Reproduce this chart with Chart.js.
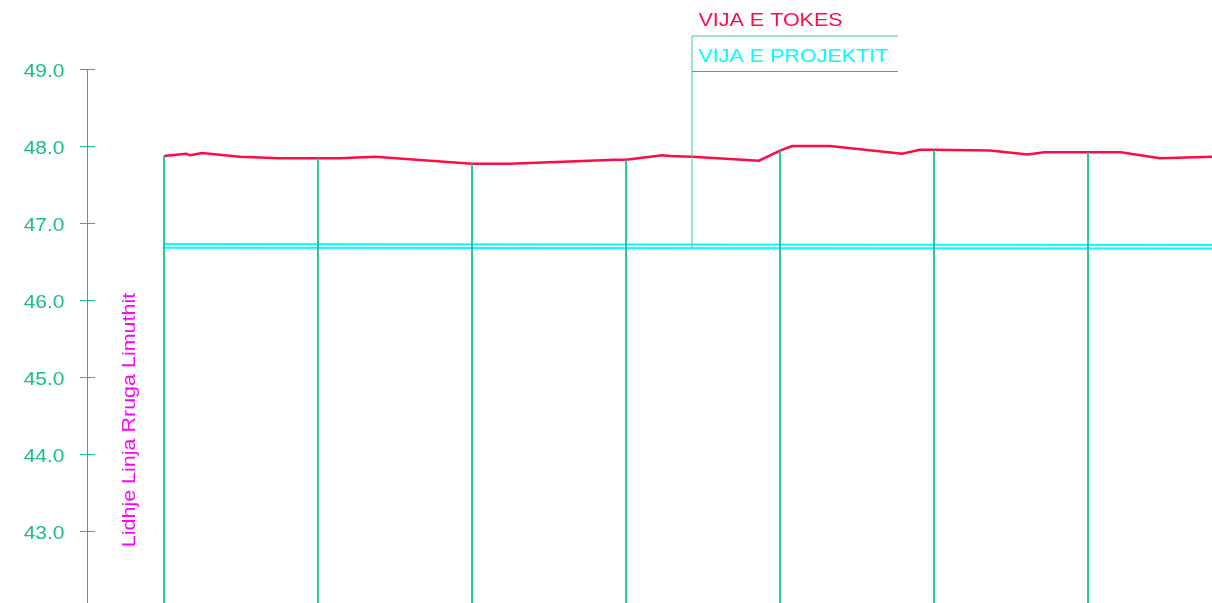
<!DOCTYPE html>
<html>
<head>
<meta charset="utf-8">
<script src="https://cdn.jsdelivr.net/npm/chart.js@4/dist/chart.umd.min.js"></script>
<style>
  html, body { margin: 0; padding: 0; background: #ffffff; }
  #wrap { width: 1212px; height: 603px; position: relative; }
</style>
</head>
<body>
<div id="wrap"><canvas id="profile"></canvas></div>
<script>
// chainage (m) and ground level (m) of the existing terrain
const groundX = [0, 2.86, 3.38, 4.94, 9.87, 15.06, 20, 22.86, 27.4, 40, 44.94, 58.57, 60, 64.68, 65.71, 68.57, 77.27, 80, 81.56, 86.49, 95.84, 98.18, 100, 107.27, 112.21, 114.29, 120, 124.29, 129.35, 136.1];
const groundY = [47.87, 47.9, 47.88, 47.91, 47.86, 47.84, 47.84, 47.84, 47.86, 47.77, 47.77, 47.82, 47.82, 47.88, 47.87, 47.86, 47.81, 47.94, 48.0, 48.0, 47.9, 47.95, 47.95, 47.94, 47.89, 47.92, 47.92, 47.92, 47.84, 47.86];

// project line (two edges), start / end of the drawn stretch
const projectX = [0, 136.1];
const projectTop = [46.728, 46.715];
const projectBottom = [46.678, 46.668];

// stations with vertical reference lines
const stations = [0, 20, 40, 60, 80, 100, 120];
const datumLevel = 42.0;

const yTicks = [43, 44, 45, 46, 47, 48, 49];
const axisAt = -10;
const leaderAt = 68.57;

const GREEN = '#17bd8b';
const RED = '#ff0a47';
const CYAN = '#00ffff';
const MAGENTA = '#ff00ff';

const ground = groundX.map((x, i) => ({ x: x, y: groundY[i] }));
const stationLines = [];
stations.forEach(s => {
  const top = groundY[groundX.indexOf(s)];
  stationLines.push({ x: s, y: top }, { x: s, y: datumLevel }, { x: s, y: null });
});

function stretchText(ctx, text, x, y, size, color, align, sx) {
  ctx.save();
  ctx.font = size + 'px "Liberation Sans", Arial, sans-serif';
  ctx.fillStyle = color;
  ctx.textBaseline = 'alphabetic';
  ctx.translate(x, y);
  ctx.scale(sx, 1);
  ctx.textAlign = align;
  ctx.fillText(text, 0, 0);
  ctx.restore();
}

const profileDecor = {
  id: 'profileDecor',
  afterDatasetsDraw(chart) {
    const ctx = chart.ctx;
    const xs = chart.scales.x, ys = chart.scales.y;
    const ax = Math.round(xs.getPixelForValue(axisAt)) + 0.5;

    ctx.save();
    ctx.strokeStyle = GREEN;
    ctx.lineWidth = 1;
    ctx.beginPath();
    ctx.moveTo(ax, ys.getPixelForValue(yTicks[yTicks.length - 1]));
    ctx.lineTo(ax, chart.height);
    yTicks.forEach(t => {
      const py = Math.round(ys.getPixelForValue(t)) + 0.5;
      ctx.moveTo(ax - 7.5, py);
      ctx.lineTo(ax + 7.5, py);
    });
    ctx.stroke();

    yTicks.forEach(t => {
      const py = ys.getPixelForValue(t);
      stretchText(ctx, t.toFixed(1), ax - 23, py + 8, 17.5, GREEN, 'right', 1.2);
    });

    // leader line + label box
    const lx = Math.round(xs.getPixelForValue(leaderAt));
    const boxTop = Math.round(ys.getPixelForValue(49.43));
    const boxMid = Math.round(ys.getPixelForValue(48.975)) + 0.5;
    const boxRight = xs.getPixelForValue(95.3);
    ctx.strokeStyle = '#3cc9a4';
    ctx.beginPath();
    ctx.moveTo(lx, ys.getPixelForValue(projectBottom[0]));
    ctx.lineTo(lx, boxTop);
    ctx.lineTo(boxRight, boxTop);
    ctx.stroke();
    ctx.strokeStyle = GREEN;
    ctx.beginPath();
    ctx.moveTo(lx, boxMid);
    ctx.lineTo(boxRight, boxMid);
    ctx.stroke();
    ctx.restore();

    stretchText(ctx, 'VIJA E TOKES', lx + 6.5, 26, 18.7, RED, 'left', 1.15);
    stretchText(ctx, 'VIJA E PROJEKTIT', lx + 6.5, 62, 18.7, CYAN, 'left', 1.15);

    ctx.save();
    ctx.translate(135, 420);
    ctx.rotate(-Math.PI / 2);
    stretchText(ctx, 'Lidhje Linja Rruga Limuthit', 0, 0, 18.7, MAGENTA, 'center', 1.15);
    ctx.restore();
  }
};

new Chart(document.getElementById('profile').getContext('2d'), {
  type: 'scatter',
  data: {
    datasets: [
      {
        label: 'stations',
        data: stationLines,
        showLine: true,
        spanGaps: false,
        borderColor: GREEN,
        borderWidth: 1,
        pointRadius: 0
      },
      {
        label: 'VIJA E PROJEKTIT',
        data: projectX.map((x, i) => ({ x: x, y: projectTop[i] })),
        showLine: true,
        borderColor: CYAN,
        borderWidth: 2,
        pointRadius: 0
      },
      {
        label: 'VIJA E PROJEKTIT 2',
        data: projectX.map((x, i) => ({ x: x, y: projectBottom[i] })),
        showLine: true,
        borderColor: CYAN,
        borderWidth: 2,
        pointRadius: 0
      },
      {
        label: 'VIJA E TOKES',
        data: ground,
        showLine: true,
        borderColor: RED,
        borderWidth: 2.5,
        pointRadius: 0,
        tension: 0
      }
    ]
  },
  options: {
    responsive: true,
    maintainAspectRatio: false,
    animation: false,
    layout: { padding: 0 },
    plugins: {
      legend: { display: false },
      tooltip: { enabled: false }
    },
    scales: {
      x: { type: 'linear', min: -21.3, max: 136.1, display: false },
      y: { type: 'linear', min: 42.065, max: 49.896, display: false }
    }
  },
  plugins: [profileDecor]
});
</script>
</body>
</html>
